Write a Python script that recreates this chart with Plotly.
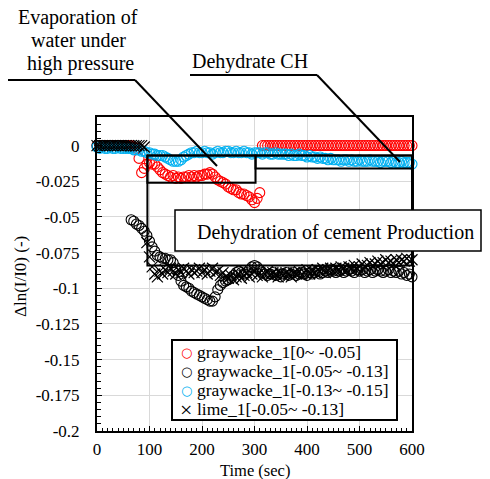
import plotly.graph_objects as go

# Sampling times (s), one reading every 5 s
TIME_SEC = list(range(0, 601, 5))

# Δln(I/I0) readings per layer
GRAYWACKE_0_005 = [
    0.0, 0.0, 0.0, 0.0, 0.0, 0.0, 0.0, 0.0, 0.0, 0.0,
    0.0, 0.0, 0.0, 0.0, -0.001,
    -0.002, -0.009, -0.019, -0.016, -0.013, -0.012, -0.013, -0.013, -0.015, -0.017,
    -0.019, -0.020, -0.021, -0.022, -0.021, -0.023, -0.022, -0.023, -0.022, -0.022,
    -0.021, -0.022, -0.021, -0.022, -0.021, -0.021, -0.020, -0.020, -0.019, -0.020,
    -0.022, -0.024, -0.025, -0.026, -0.027, -0.029, -0.030, -0.031, -0.031, -0.033,
    -0.034, -0.034, -0.035, -0.036, -0.038, -0.040, -0.037, -0.033,
    0.0, 0.0, 0.0, 0.0, 0.0, 0.0, 0.0, 0.0, 0.0, 0.0,
    0.0, 0.0, 0.0, 0.0, 0.0, 0.0, 0.0, 0.0, 0.0, 0.0,
    0.0, 0.0, 0.0, 0.0, 0.0, 0.0, 0.0, 0.0, 0.0, 0.0,
    0.0, 0.0, 0.0, 0.0, 0.0, 0.0, 0.0, 0.0, 0.0, 0.0,
    0.0, 0.0, 0.0, 0.0, 0.0, 0.0, 0.0, 0.0, 0.0, 0.0,
    0.0, 0.0, 0.0, 0.0, 0.0, 0.0, 0.0, 0.0,
]

GRAYWACKE_005_013 = [
    0.0, 0.0, 0.0, 0.0, 0.0, 0.0, 0.0, 0.0, 0.0, 0.0, 0.0, 0.0, -0.001,
    -0.052, -0.053, -0.055, -0.056, -0.058, -0.060, -0.063, -0.067, -0.071, -0.074,
    -0.077, -0.078, -0.079, -0.079, -0.080, -0.080, -0.082,
    -0.087, -0.091, -0.095, -0.098, -0.099, -0.100, -0.102, -0.103, -0.104, -0.105,
    -0.106, -0.107, -0.108, -0.109, -0.109, -0.106, -0.101,
    -0.098, -0.096, -0.095, -0.094, -0.093, -0.091, -0.089, -0.088, -0.089, -0.090,
    -0.089, -0.087, -0.085, -0.084, -0.085, -0.087,
    -0.089, -0.090, -0.091, -0.090, -0.089, -0.091, -0.090, -0.092, -0.090, -0.089,
    -0.091, -0.090, -0.089, -0.091, -0.090, -0.089, -0.090, -0.091, -0.089, -0.090,
    -0.089, -0.088, -0.090, -0.089, -0.088, -0.089, -0.087, -0.088, -0.089, -0.088,
    -0.087, -0.089, -0.088, -0.087, -0.088, -0.089, -0.087, -0.088, -0.087, -0.089,
    -0.088, -0.087, -0.089, -0.088, -0.087, -0.088, -0.089, -0.088, -0.087, -0.089,
    -0.088, -0.089, -0.088, -0.090, -0.089, -0.091, -0.090, -0.092,
]

GRAYWACKE_013_015 = [
    -0.001, -0.002, -0.001, -0.002, -0.002, -0.001, -0.002, -0.002, -0.001, -0.002,
    -0.002, -0.002, -0.002,
    -0.002, -0.003, -0.003, -0.003, -0.004, -0.004, -0.005,
    -0.005, -0.006, -0.006, -0.007, -0.007, -0.007, -0.008, -0.009, -0.010, -0.011,
    -0.011, -0.011,
    -0.010, -0.008, -0.007, -0.006, -0.005,
    -0.005, -0.004, -0.005, -0.005, -0.004, -0.005, -0.005, -0.006, -0.005, -0.004,
    -0.005, -0.005, -0.004, -0.004, -0.005, -0.005, -0.004, -0.005, -0.005, -0.004,
    -0.005, -0.005, -0.006, -0.005, -0.005, -0.005, -0.006, -0.005, -0.005, -0.006,
    -0.006, -0.005, -0.006, -0.006,
    -0.006, -0.006, -0.007, -0.006, -0.007, -0.007, -0.006, -0.007, -0.007, -0.008,
    -0.007, -0.008, -0.008, -0.009, -0.008, -0.009,
    -0.009, -0.010, -0.009, -0.010, -0.010, -0.010, -0.011, -0.010, -0.010, -0.011,
    -0.010, -0.011, -0.011, -0.010, -0.011, -0.011, -0.011, -0.010, -0.011, -0.011,
    -0.011, -0.012, -0.011, -0.011, -0.011, -0.012, -0.011, -0.012, -0.012, -0.011,
    -0.012, -0.012, -0.012, -0.013,
]

LIME_005_013 = [
    0.0, 0.0, 0.0, 0.0, 0.0, 0.0, 0.0, 0.0, 0.0, 0.0,
    0.0, 0.0, 0.0, 0.0, 0.0, 0.0, 0.0, 0.0, -0.001,
    -0.068, -0.078, -0.085, -0.090, -0.092, -0.088, -0.090, -0.087, -0.089, -0.086, -0.088,
    -0.090, -0.087, -0.089, -0.086, -0.088, -0.090, -0.087, -0.089, -0.088, -0.086,
    -0.089, -0.087, -0.090, -0.088, -0.086, -0.089, -0.088, -0.091, -0.089, -0.092,
    -0.093, -0.091, -0.094, -0.092, -0.090, -0.093, -0.091, -0.089, -0.092, -0.090,
    -0.088, -0.091, -0.089, -0.092, -0.090, -0.088, -0.091, -0.089, -0.090, -0.092, -0.089,
    -0.091, -0.089, -0.090, -0.092, -0.089, -0.090, -0.088, -0.091, -0.089, -0.087,
    -0.090, -0.088, -0.089, -0.087, -0.088, -0.086, -0.089, -0.087, -0.086, -0.088,
    -0.086, -0.087, -0.085, -0.086, -0.088, -0.085, -0.086, -0.084, -0.086, -0.085,
    -0.083, -0.085, -0.084, -0.082, -0.084, -0.083, -0.081, -0.083, -0.082, -0.080,
    -0.082, -0.081, -0.083, -0.080, -0.082, -0.080, -0.081, -0.079, -0.081, -0.080,
]

SERIES_NAMES = [
    "graywacke_1[0~ -0.05]",
    "graywacke_1[-0.05~ -0.13]",
    "graywacke_1[-0.13~ -0.15]",
    "lime_1[-0.05~ -0.13]",
]
SERIES_COLORS = ["#FF0000", "#000000", "#00B0F0", "#000000"]

X_TICK_VALUES = [0, 100, 200, 300, 400, 500, 600]
Y_TICK_VALUES = [0, -0.025, -0.05, -0.075, -0.1, -0.125, -0.15, -0.175, -0.2]
Y_TICK_LABELS = ["0", "-0.025", "-0.05", "-0.075", "-0.1", "-0.125", "-0.15", "-0.175", "-0.2"]

SERIF = "Liberation Serif"
W, H = 490, 479
L, R, T, B = 97, 412, 117, 431  # plot area edges in page pixels


def px(x):
    return (x - L) / (R - L)


def py(y):
    return (B - y) / (B - T)


fig = go.Figure()

series = [GRAYWACKE_0_005, GRAYWACKE_005_013, GRAYWACKE_013_015, LIME_005_013]
for i, (vals, name, color) in enumerate(zip(series, SERIES_NAMES, SERIES_COLORS)):
    if i == 3:
        marker = dict(symbol="x-thin-open", size=11, color=color,
                      line=dict(color=color, width=1.2))
    else:
        marker = dict(symbol="circle-open", size=10, color=color,
                      line=dict(color=color, width=1.1))
    fig.add_trace(go.Scatter(x=TIME_SEC, y=vals, mode="markers", name=name,
                             marker=marker, showlegend=False, cliponaxis=False))

shapes = []
line_k = dict(color="black", width=2)
# highlighted regions (data coordinates)
shapes.append(dict(type="rect", xref="x", yref="y", x0=96, x1=302, y0=-0.007, y1=-0.026,
                   line=line_k, layer="above"))
shapes.append(dict(type="rect", xref="x", yref="y", x0=302, x1=600, y0=-0.007, y1=-0.016,
                   line=line_k, layer="above"))
shapes.append(dict(type="rect", xref="x", yref="y", x0=96, x1=600, y0=-0.007, y1=-0.084,
                   line=line_k, layer="above"))

# callout leaders
for (xa, ya, xb, yb) in [(8, 80, 135, 80), (135, 80, 217, 166),
                         (190, 75, 317, 75), (317, 75, 400, 162)]:
    shapes.append(dict(type="line", xref="paper", yref="paper",
                       x0=px(xa), y0=py(ya), x1=px(xb), y1=py(yb),
                       line=line_k, layer="above"))

# label box
shapes.append(dict(type="rect", xref="paper", yref="paper",
                   x0=px(175), x1=px(481), y0=py(210), y1=py(251),
                   line=dict(color="black", width=1.5), fillcolor="white", layer="above"))
# key box
shapes.append(dict(type="rect", xref="paper", yref="paper",
                   x0=px(172), x1=px(397), y0=py(340), y1=py(420),
                   line=dict(color="black", width=2), fillcolor="white", layer="above"))

annotations = []


def text(x, y, s, size=20, xanchor="center", color="black", family=SERIF, angle=0):
    annotations.append(dict(x=px(x), y=py(y), xref="paper", yref="paper", text=s,
                            showarrow=False, xanchor=xanchor, yanchor="middle",
                            textangle=angle,
                            font=dict(family=family, size=size, color=color)))


text(78, 17, "Evaporation of")
text(78, 40, "water under")
text(80, 63, "high pressure")
text(250, 61, "Dehydrate CH")
text(195, 232, "Dehydration of cement Production", xanchor="left")

# key entries
rows = [352, 371, 390, 409]
for i, (name, color, yy) in enumerate(zip(SERIES_NAMES, SERIES_COLORS, rows)):
    if i == 3:
        text(186, yy, "×", size=22, color=color)
    else:
        text(186, yy, "○", size=13, color=color, family="DejaVu Sans")
    text(195, yy, name, size=17.5, xanchor="left")

# axis titles
text(255, 470, "Time (sec)", size=16.5)
text(20, 277, "Δln(I/I0) (-)", size=17, angle=-90)

axis_font = dict(family=SERIF, size=17, color="black")
common = dict(showline=True, linewidth=2, linecolor="black", mirror=True,
              showgrid=True, gridcolor="#D9D9D9", gridwidth=1, zeroline=False,
              ticks="inside", ticklen=5, tickwidth=1, tickcolor="black",
              tickfont=axis_font)

fig.update_xaxes(range=[0, 600], tickvals=X_TICK_VALUES, ticklabelstandoff=2,
                 minor=dict(dtick=10, ticks="inside", ticklen=3, tickwidth=1,
                            tickcolor="black", showgrid=False),
                 **common)
fig.update_yaxes(range=[-0.2, 0.02], tickvals=Y_TICK_VALUES, ticktext=Y_TICK_LABELS,
                 ticklabelstandoff=12,
                 minor=dict(dtick=0.005, ticks="inside", ticklen=4, tickwidth=1,
                            tickcolor="black", showgrid=False),
                 **common)

fig.update_layout(width=W, height=H, margin=dict(l=L, r=W - R, t=T, b=H - B),
                  paper_bgcolor="white", plot_bgcolor="white",
                  shapes=shapes, annotations=annotations, showlegend=False,
                  font=dict(family=SERIF, color="black"))

fig.write_html("out.html")
